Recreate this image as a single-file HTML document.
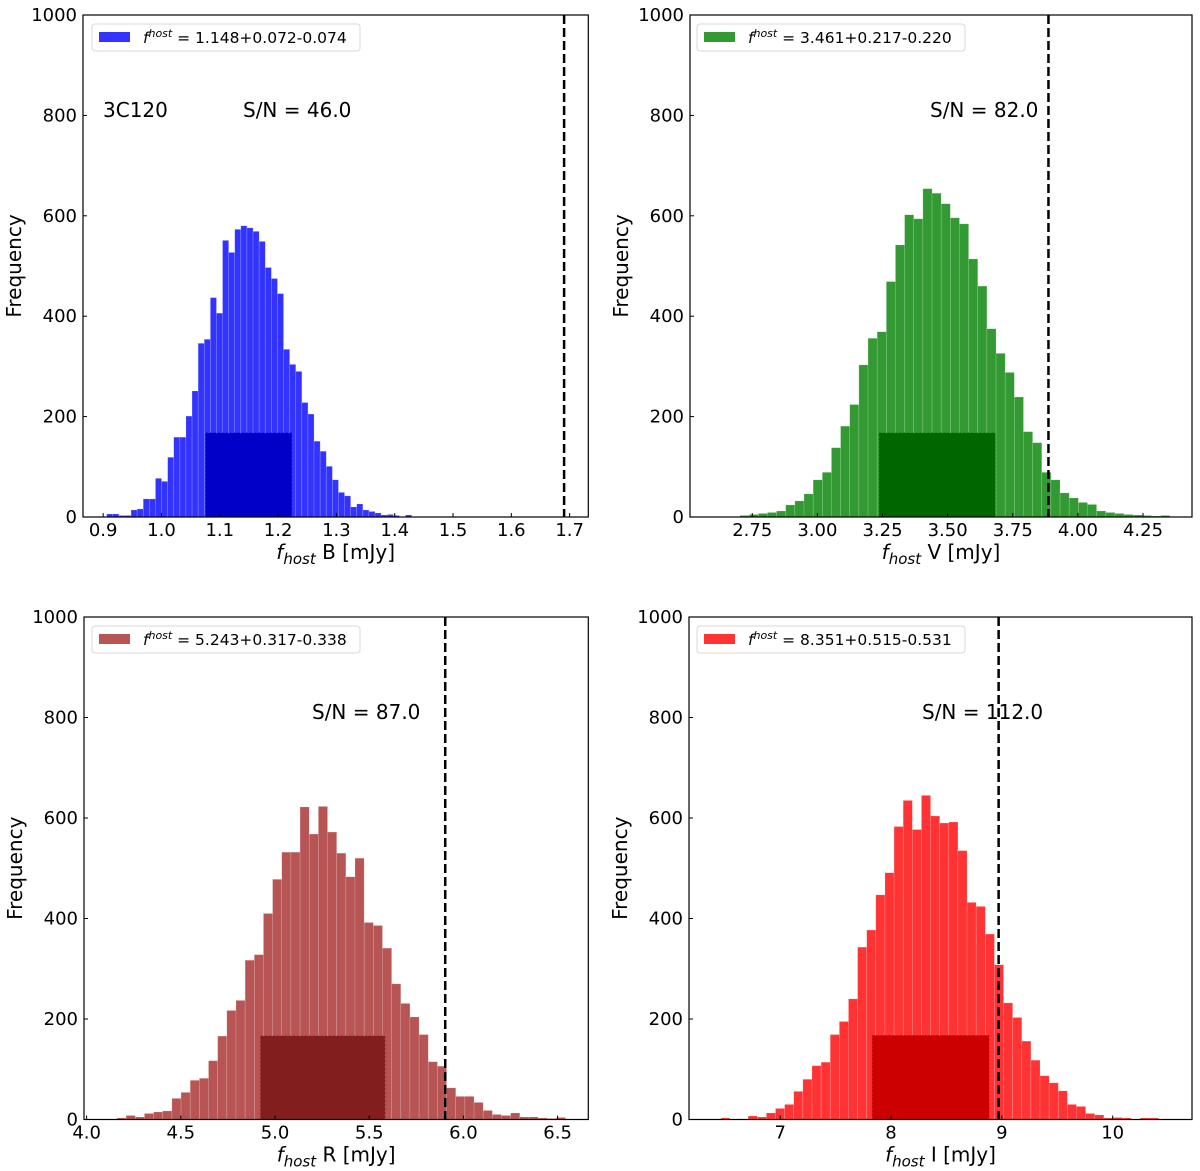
<!DOCTYPE html>
<html><head><meta charset="utf-8"><style>
body{margin:0;background:#fff}
svg{display:block;font-family:"DejaVu Sans","Liberation Sans",sans-serif}
</style></head><body>
<svg id="fig" width="1200" height="1171" viewBox="0 0 1200 1171" xmlns="http://www.w3.org/2000/svg"></svg>
<script>
// ---- data ----
const binStartB = 0.906, binWidthB = 0.01046;
const countsB = [6,6,3,3,14,16,36,36,77,71,119,159,159,201,251,346,354,437,406,551,527,573,580,576,569,549,497,475,445,334,304,290,228,205,151,131,101,74,49,42,20,26,14,11,8,4,5,3,1,4];
const binStartV = 2.703, binWidthV = 0.0351;
const countsV = [3,5,7,9,12,24,32,46,74,89,138,181,224,303,356,369,469,542,602,594,654,645,624,596,584,514,460,375,326,288,239,170,148,89,74,48,38,29,25,12,9,7,5,4,3,2,3];
const binStartR = 4.161, binWidthR = 0.0486;
const countsR = [3,8,5,12,15,17,42,54,78,82,117,166,217,237,317,328,410,478,532,532,622,568,623,572,530,483,520,392,386,341,270,231,204,169,115,106,63,46,46,34,18,10,8,13,5,5,3,2,4];
const binStartI = 6.464, binWidthI = 0.0823;
const countsI = [3,1,1,7,5,13,22,30,56,80,107,114,169,195,240,343,377,447,491,583,635,577,645,604,590,592,535,432,424,369,308,232,203,156,118,87,73,57,30,26,12,9,3,4,3,1,3,3];
const darkRanges = [[1.076,1.223],[3.238,3.682],[4.924,5.583],[7.832,8.883]];
const darkHeights = [167,167,166,167];
const dashedX = [1.6905,3.887,5.9035,8.971];
const xTicksB = [0.9,1.0,1.1,1.2,1.3,1.4,1.5,1.6,1.7];
const xTickLabelsB = ["0.9","1.0","1.1","1.2","1.3","1.4","1.5","1.6","1.7"];
const xTicksV = [2.75,3.0,3.25,3.5,3.75,4.0,4.25];
const xTickLabelsV = ["2.75","3.00","3.25","3.50","3.75","4.00","4.25"];
const xTicksR = [4.0,4.5,5.0,5.5,6.0,6.5];
const xTickLabelsR = ["4.0","4.5","5.0","5.5","6.0","6.5"];
const xTicksI = [7,8,9,10];
const xTickLabelsI = ["7","8","9","10"];
const yTicks = [0,200,400,600,800,1000];
const legendVals = ["1.148+0.072-0.074","3.461+0.217-0.220","5.243+0.317-0.338","8.351+0.515-0.531"];
const snVals = ["46.0","82.0","87.0","112.0"];
const bands = ["B","V","R","I"];

const NS="http://www.w3.org/2000/svg";
const svg=document.getElementById('fig');
function mk(tag,attrs,parent){const e=document.createElementNS(NS,tag);for(const k in attrs)e.setAttribute(k,attrs[k]);(parent||svg).appendChild(e);return e;}

const panels=[
 {L:83,R:588.3,T:15,B:517,x0:0.8654,x1:1.732,start:binStartB,w:binWidthB,counts:countsB,ticks:xTicksB,tl:xTickLabelsB,col:"#3333ff",dark:"#0000c8",leg:[92,24],sn:[243,117],name:"b"},
 {L:690,R:1192,T:15,B:517,x0:2.511,x1:4.438,start:binStartV,w:binWidthV,counts:countsV,ticks:xTicksV,tl:xTickLabelsV,col:"#339933",dark:"#006600",leg:[697,24],sn:[930,117],name:"v"},
 {L:84,R:588.3,T:617,B:1119.5,x0:3.986,x1:6.663,start:binStartR,w:binWidthR,counts:countsR,ticks:xTicksR,tl:xTickLabelsR,col:"#b75454",dark:"#821e1e",leg:[92,626],sn:[312,719],name:"r"},
 {L:689,R:1192,T:617,B:1119.5,x0:6.177,x1:10.716,start:binStartI,w:binWidthI,counts:countsI,ticks:xTicksI,tl:xTickLabelsI,col:"#ff3333",dark:"#cc0000",leg:[697,626],sn:[922,719],name:"i"}
];

panels.forEach((p,pi)=>{
 const g=mk('g',{});
 
 
 const sx=v=>p.L+(v-p.x0)/(p.x1-p.x0)*(p.R-p.L);
 const sy=v=>p.B-v/1000*(p.B-p.T);
 const clip=mk('clipPath',{id:'c'+pi},g);
 mk('rect',{x:p.L,y:p.T,width:p.R-p.L,height:p.B-p.T},clip);
 const bars=mk('g',{'clip-path':'url(#c'+pi+')'},g);
 p.counts.forEach((c,i)=>{
  const a=p.start+i*p.w,b=a+p.w;
  const r=mk('rect',{x:sx(a),y:sy(c),width:sx(b)-sx(a),height:sy(0)-sy(c),fill:p.col,stroke:'rgba(255,255,255,0.25)','stroke-width':0.6},bars);
  
  
 });
 const dr=darkRanges[pi];
 const d=mk('rect',{x:sx(dr[0]),y:sy(darkHeights[pi]),width:sx(dr[1])-sx(dr[0]),height:sy(0)-sy(darkHeights[pi]),fill:p.dark,stroke:p.dark,'stroke-dasharray':'2,2','stroke-width':1},bars);
 
 
 const dl=mk('line',{x1:sx(dashedX[pi]),x2:sx(dashedX[pi]),y1:p.T,y2:p.B,stroke:'#000','stroke-width':2.5,'stroke-dasharray':'9,4'},g);
 
 
 const fr=mk('rect',{x:p.L,y:p.T,width:p.R-p.L,height:p.B-p.T,fill:'none',stroke:'#000','stroke-width':1.2},g);
 
 
 p.ticks.forEach((t,i)=>{
  const x=sx(t);
  mk('line',{x1:x,x2:x,y1:p.B,y2:p.B-4,stroke:'#000','stroke-width':1},g);
  const tx=mk('text',{x:x,y:p.B+19,'font-size':18,'text-anchor':'middle',fill:'#000'},g);
  tx.textContent=p.tl[i];
  
  
 });
 yTicks.forEach(t=>{
  const y=sy(t);
  mk('line',{x1:p.L,x2:p.L+4,y1:y,y2:y,stroke:'#000','stroke-width':1},g);
  const tx=mk('text',{x:p.L-6,y:y+6,'font-size':18,'text-anchor':'end',fill:'#000'},g);
  tx.textContent=String(t);
  
  
 });
 const yl=mk('text',{x:0,y:0,'font-size':20,'text-anchor':'middle',transform:`translate(${p.L-62},${(p.T+p.B)/2}) rotate(-90)`},g);
 yl.textContent='Frequency';
 
 
 const xl=mk('text',{x:(p.L+p.R)/2,y:p.B+42,'font-size':20,'text-anchor':'middle'},g);
 
 
 xl.innerHTML='<tspan font-style="italic">f</tspan><tspan font-style="italic" font-size="15" dy="5">host</tspan><tspan dy="-5"> '+bands[pi]+' [mJy]</tspan>';
 const lg=mk('g',{},g);
 
 
 mk('rect',{x:p.leg[0],y:p.leg[1],width:268,height:27,rx:3,fill:'#fff',stroke:'#d8d8d8','stroke-width':1},lg);
 mk('rect',{x:p.leg[0]+7,y:p.leg[1]+8,width:31,height:10,fill:p.col},lg);
 const lt=mk('text',{x:p.leg[0]+51,y:p.leg[1]+19,'font-size':15.5},lg);
 lt.innerHTML='<tspan font-style="italic">f</tspan><tspan font-style="italic" font-size="11" dy="-6">host</tspan><tspan dy="6"> = '+legendVals[pi]+'</tspan>';
 const sn=mk('text',{x:p.sn[0],y:p.sn[1],'font-size':20},g);
 sn.textContent='S/N = '+snVals[pi];
 
 
});
const obj=mk('text',{x:103,y:117,'font-size':20});
obj.textContent='3C120';


</script>
</body></html>
